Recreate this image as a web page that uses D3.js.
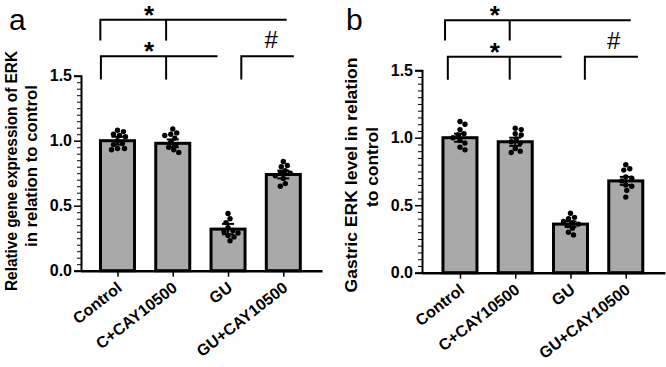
<!DOCTYPE html>
<html>
<head>
<meta charset="utf-8">
<script src="https://cdn.jsdelivr.net/npm/d3@7"></script>
<style>
  body { margin: 0; background: #fff; }
  svg { display: block; font-family: "Liberation Sans", Arial, sans-serif; }
</style>
</head>
<body>
<script>
// groups and axis ticks shared by both panels
const categories = ["Control", "C+CAY10500", "GU", "GU+CAY10500"];
const yTicks = [0, 0.5, 1.0, 1.5];

// panel a: relative ERK gene expression
const meanA = [1.00, 0.98, 0.32, 0.74];
const errA = [0.03, 0.03, 0.04, 0.03];
const pointsA = [
  [1.08, 1.07, 1.05, 1.04, 1.03, 1.00, 0.98, 0.97, 0.94, 0.94, 0.93],
  [1.09, 1.06, 1.05, 1.04, 1.02, 0.99, 0.97, 0.95, 0.93, 0.91],
  [0.44, 0.40, 0.37, 0.33, 0.31, 0.30, 0.29, 0.27, 0.26, 0.23],
  [0.84, 0.81, 0.80, 0.77, 0.75, 0.75, 0.73, 0.71, 0.67, 0.65]
];

// panel b: gastric ERK level
const meanB = [1.00, 0.97, 0.36, 0.68];
const errB = [0.03, 0.03, 0.02, 0.03];
const pointsB = [
  [1.12, 1.10, 1.06, 1.03, 1.02, 1.00, 0.98, 0.96, 0.93, 0.91],
  [1.07, 1.06, 1.03, 1.02, 0.99, 0.97, 0.96, 0.92, 0.90, 0.89],
  [0.44, 0.41, 0.40, 0.38, 0.37, 0.36, 0.35, 0.33, 0.30, 0.28],
  [0.80, 0.77, 0.76, 0.71, 0.70, 0.68, 0.65, 0.64, 0.61, 0.56]
];

// significance brackets (x in group index units, y in axis units)
const sigA = [
  { label: "*", x1: -0.31, x2: 3.06, mid: 0.88, y: 1.93, drop: 1.77, lx: 0.57 },
  { label: "*", x1: -0.30, x2: 1.81, mid: 0.88, y: 1.65, drop: 1.47, lx: 0.57 },
  { label: "#", x1: 2.24, x2: 3.19, mid: null, y: 1.65, drop: 1.47, lx: 2.78 }
];
const sigB = [
  { label: "*", x1: -0.27, x2: 3.09, mid: 0.90, y: 1.87, drop: 1.72, lx: 0.63 },
  { label: "*", x1: -0.22, x2: 1.84, mid: 0.90, y: 1.60, drop: 1.43, lx: 0.63 },
  { label: "#", x1: 2.26, x2: 3.22, mid: null, y: 1.60, drop: 1.43, lx: 2.78 }
];

const panels = [
  { tag: "a", tagX: 9, means: meanA, errs: errA, points: pointsA, sig: sigA,
    xDom: [-0.66, 3.70], xRange: [81, 322], yRange: [270.7, 75.7],
    titles: [
      { text: "Relative gene expression of ERK", x: 17, y: 171, len: 240 },
      { text: "in relation to control", x: 37, y: 166, len: 162 }
    ] },
  { tag: "b", tagX: 346, means: meanB, errs: errB, points: pointsB, sig: sigB,
    xDom: [-0.687, 3.71], xRange: [422, 665], yRange: [272.7, 70.2],
    titles: [
      { text: "Gastric ERK level in relation", x: 357, y: 175, len: 235 },
      { text: "to control", x: 378, y: 167, len: 80 }
    ] }
];

const svg = d3.select("body").append("svg")
  .attr("width", 666)
  .attr("height", 367);

// simple beeswarm so that dots at similar heights spread sideways
const swarm = (vals, y, r) => {
  const placed = [];
  return vals.map(v => {
    const py = y(v);
    let off = 0;
    for (let k = 0; k < 60; k++) {
      const c = (k % 2 ? 1 : -1) * Math.ceil(k / 2);
      if (placed.every(p => Math.hypot(p.dx - c, p.py - py) >= 2 * r)) { off = c; break; }
    }
    placed.push({ dx: off, py });
    return { v, dx: off };
  });
};

panels.forEach(p => {
  const x = d3.scaleLinear().domain(p.xDom).range(p.xRange);
  const y = d3.scaleLinear().domain([0, 1.5]).range(p.yRange);
  const g = svg.append("g");
  const barW = 34;

  // bars
  g.selectAll("rect.bar")
    .data(p.means)
    .enter()
    .append("rect")
    .attr("class", "bar")
    .attr("x", (d, i) => x(i) - barW / 2)
    .attr("y", d => y(d))
    .attr("width", barW)
    .attr("height", d => y(0) - y(d))
    .attr("fill", "#a9a9a9")
    .attr("stroke", "#000")
    .attr("stroke-width", 3);

  // error bars
  p.means.forEach((m, i) => {
    const e = p.errs[i];
    const eg = g.append("g").attr("stroke", "#000").attr("stroke-width", 2);
    eg.append("line").attr("x1", x(i)).attr("x2", x(i)).attr("y1", y(m - e)).attr("y2", y(m + e));
    eg.append("line").attr("x1", x(i) - 6).attr("x2", x(i) + 6).attr("y1", y(m + e)).attr("y2", y(m + e));
    eg.append("line").attr("x1", x(i) - 6).attr("x2", x(i) + 6).attr("y1", y(m - e)).attr("y2", y(m - e));
  });

  // individual points
  p.points.forEach((vals, i) => {
    g.selectAll(null)
      .data(swarm(vals, y, 2.7))
      .enter()
      .append("circle")
      .attr("cx", d => x(i) + d.dx)
      .attr("cy", d => y(d.v))
      .attr("r", 2.7)
      .attr("fill", "#000");
  });

  // y axis: major and minor ticks
  const yAxis = g.append("g")
    .attr("transform", `translate(${p.xRange[0]},0)`)
    .call(d3.axisLeft(y).tickValues(yTicks).tickSize(7).tickPadding(2).tickFormat(d3.format(".1f")));
  yAxis.select(".domain").attr("stroke-width", 2);
  yAxis.selectAll(".tick line").attr("stroke-width", 1.5);
  yAxis.selectAll("text")
    .attr("font-size", 16).attr("font-weight", "bold").attr("font-family", "Liberation Sans, Arial, sans-serif");

  const minor = d3.range(0, 1.5001, 0.05).filter(v => Math.abs(v * 2 - Math.round(v * 2)) > 1e-6);
  g.append("g")
    .attr("transform", `translate(${p.xRange[0]},0)`)
    .call(d3.axisLeft(y).tickValues(minor).tickSize(4).tickFormat(""))
    .call(a => a.select(".domain").remove())
    .selectAll(".tick line").attr("stroke-width", 1);

  // x axis
  const xAxis = g.append("g")
    .attr("transform", `translate(0,${y(0)})`)
    .call(d3.axisBottom(x).tickValues(d3.range(categories.length)).tickSize(6).tickSizeOuter(0)
      .tickFormat(i => categories[i]));
  xAxis.select(".domain").attr("stroke-width", 2.5);
  xAxis.selectAll(".tick line").attr("stroke-width", 1.5);
  xAxis.selectAll("text")
    .attr("font-size", 16).attr("font-weight", "bold").attr("font-family", "Liberation Sans, Arial, sans-serif")
    .attr("text-anchor", "end")
    .attr("x", 0).attr("y", 0).attr("dy", 0)
    .attr("transform", "translate(5,19) rotate(-38)");

  // axis title lines
  p.titles.forEach(t => {
    g.append("text")
      .attr("transform", `translate(${t.x},${t.y}) rotate(-90)`)
      .attr("text-anchor", "middle")
      .attr("font-size", 17)
      .attr("font-weight", "bold")
      .attr("textLength", t.len)
      .attr("lengthAdjust", "spacingAndGlyphs")
      .text(t.text);
  });

  // panel letter
  g.append("text")
    .attr("x", p.tagX).attr("y", 30)
    .attr("font-size", 30)
    .text(p.tag);

  // significance brackets
  p.sig.forEach(s => {
    const sg = g.append("g").attr("stroke", "#000").attr("stroke-width", 2).attr("fill", "none");
    sg.append("path")
      .attr("d", `M${x(s.x1)},${y(s.drop)}V${y(s.y)}H${x(s.x2)}`);
    if (s.mid !== null) {
      sg.append("line")
        .attr("x1", x(s.mid)).attr("x2", x(s.mid))
        .attr("y1", y(s.y)).attr("y2", y(s.drop));
    }
    const star = s.label === "*";
    g.append("text")
      .attr("x", x(s.lx))
      .attr("y", star ? y(s.y) + 4 : y(s.y) - 8)
      .attr("text-anchor", "middle")
      .attr("font-size", star ? 26 : 24)
      .attr("font-weight", star ? "bold" : "normal")
      .text(s.label);
  });
});
</script>
</body>
</html>
